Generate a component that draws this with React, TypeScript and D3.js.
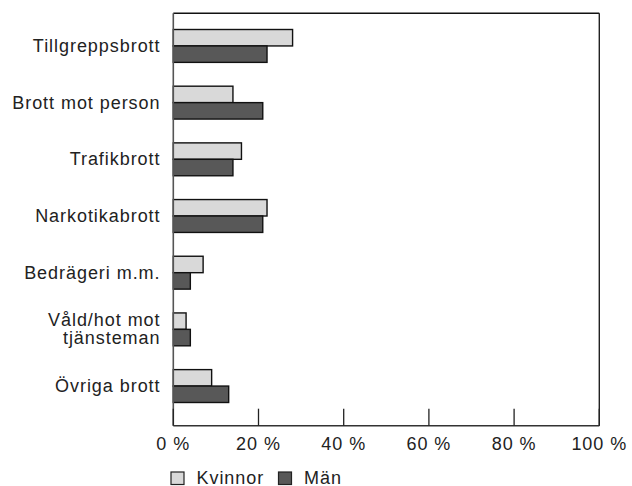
import React from "react";
import * as d3 from "d3";

const categories = [
  ["Tillgreppsbrott"],
  ["Brott mot person"],
  ["Trafikbrott"],
  ["Narkotikabrott"],
  ["Bedrägeri m.m."],
  ["Våld/hot mot", "tjänsteman"],
  ["Övriga brott"],
];
const categoryKeys = categories.map((c) => c.join(" "));
const seriesNames = ["Kvinnor", "Män"];
const kvinnor = [28, 14, 16, 22, 7, 3, 9];
const man = [22, 21, 14, 21, 4, 4, 13];
const xTicks = [0, 20, 40, 60, 80, 100];
const colors = ["#d9d9d9", "#585858"];

const W = 632;
const H = 486;
const FONT = "'Liberation Sans', Arial, Helvetica, sans-serif";
const FS = 18;
const LS = 0.95;

export default function App() {
  const x = d3.scaleLinear().domain([0, 100]).range([173.3, 599.3]);
  const y = d3
    .scaleBand<string>()
    .domain(categoryKeys)
    .range([17.6, 414.4])
    .paddingInner(0.42)
    .paddingOuter(0.21);
  const sub = d3
    .scaleBand<string>()
    .domain(seriesNames)
    .range([0, y.bandwidth()]);
  const values = [kvinnor, man];
  const top = 13.3;
  const bottom = 425.7;

  return (
    <svg
      width={W}
      height={H}
      style={{ position: "absolute", left: 0, top: 0, background: "#fff" }}
      fontFamily={FONT}
    >
      {/* bars */}
      {categoryKeys.map((k, i) => (
        <g key={k}>
          {seriesNames.map((s, j) => (
            <rect
              key={s}
              x={x(0)}
              y={(y(k) as number) + (sub(s) as number)}
              width={x(values[j][i]) - x(0)}
              height={sub.bandwidth()}
              fill={colors[j]}
              stroke="#111"
              strokeWidth={1.4}
            />
          ))}
        </g>
      ))}
      {/* frame */}
      <line x1={x(0)} x2={x(100)} y1={top} y2={top} stroke="#111" strokeWidth={1.4} />
      <line x1={x(100)} x2={x(100)} y1={top} y2={bottom} stroke="#222" strokeWidth={1.4} />
      <line x1={x(0)} x2={x(100)} y1={bottom} y2={bottom} stroke="#333" strokeWidth={1.4} />
      <line x1={x(0)} x2={x(0)} y1={top} y2={bottom} stroke="#555" strokeWidth={1.6} />
      {/* ticks */}
      {xTicks.map((t) => (
        <g key={t}>
          <line x1={x(t)} x2={x(t)} y1={bottom - 17} y2={bottom} stroke="#222" strokeWidth={1.3} />
          <text
            x={x(t)}
            y={450}
            textAnchor="middle"
            fontSize={FS}
            letterSpacing={LS}
            fill="#222"
          >
            {t} %
          </text>
        </g>
      ))}
      {/* category labels */}
      {categories.map((lines, i) => {
        const cy = (y(categoryKeys[i]) as number) + y.bandwidth() / 2;
        const n = lines.length;
        return (
          <text key={i} textAnchor="end" fontSize={FS} letterSpacing={LS} fill="#222">
            {lines.map((l, li) => (
              <tspan key={li} x={160.5} y={cy + 6 + (li - (n - 1) / 2) * 18}>
                {l}
              </tspan>
            ))}
          </text>
        );
      })}
      {/* legend */}
      {seriesNames.map((s, j) => {
        const lx = j === 0 ? 171 : 278.5;
        return (
          <g key={s}>
            <rect x={lx} y={472} width={13} height={12.5} fill={colors[j]} stroke="#222" strokeWidth={1.2} />
            <text x={lx + 25.5} y={484} fontSize={FS} letterSpacing={LS} fill="#222">
              {s}
            </text>
          </g>
        );
      })}
    </svg>
  );
}
